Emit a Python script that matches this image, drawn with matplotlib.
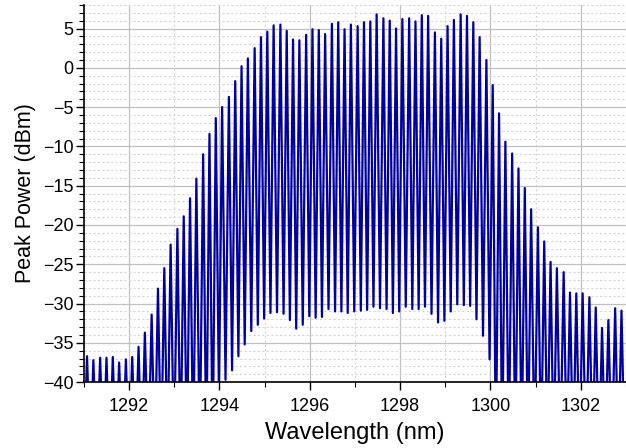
import matplotlib
matplotlib.use("Agg")
import matplotlib.pyplot as plt
from matplotlib.ticker import MultipleLocator
import numpy as np

plt.rcParams["font.family"] = ["Liberation Sans", "DejaVu Sans"]

# comb line centre wavelengths (nm)
peak_nm = [
    1291.07, 1291.21, 1291.36, 1291.50, 1291.64, 1291.78, 1291.93, 1292.07,
    1292.21, 1292.35, 1292.50, 1292.64, 1292.78, 1292.92, 1293.07, 1293.21,
    1293.35, 1293.49, 1293.64, 1293.78, 1293.92, 1294.06, 1294.21, 1294.35,
    1294.49, 1294.63, 1294.78, 1294.92, 1295.06, 1295.20, 1295.35, 1295.49,
    1295.63, 1295.77, 1295.92, 1296.06, 1296.20, 1296.34, 1296.49, 1296.63,
    1296.77, 1296.91, 1297.06, 1297.20, 1297.34, 1297.48, 1297.63, 1297.77,
    1297.91, 1298.05, 1298.20, 1298.34, 1298.48, 1298.62, 1298.77, 1298.91,
    1299.05, 1299.19, 1299.34, 1299.48, 1299.62, 1299.76, 1299.91, 1300.05,
    1300.19, 1300.33, 1300.48, 1300.62, 1300.76, 1300.90, 1301.05, 1301.19,
    1301.33, 1301.47, 1301.62, 1301.76, 1301.90, 1302.04, 1302.19, 1302.33,
    1302.47, 1302.61, 1302.76, 1302.90,
]

# peak power of each comb line (dBm)
peak_dbm = [
    -36.7, -37.2, -36.9, -36.9, -36.8, -37.5, -37.1, -36.8,
    -35.5, -33.7, -31.4, -28.1, -25.5, -22.5, -20.5, -18.9,
    -16.6, -14.1, -11.0, -8.4, -6.4, -5.0, -3.7, -1.7,
    0.2, 1.2, 2.5, 3.9, 4.6, 5.4, 5.5, 4.7,
    3.6, 3.5, 4.2, 4.9, 4.8, 4.3, 5.6, 5.8,
    4.9, 5.5, 5.3, 5.8, 5.9, 6.8, 6.3, 6.0,
    5.0, 6.2, 6.3, 5.9, 6.7, 6.6, 4.5, 3.7,
    5.3, 6.1, 6.8, 6.6, 5.8, 3.9, 1.0, -2.2,
    -5.8, -9.4, -10.9, -12.8, -15.3, -18.0, -20.3, -22.1,
    -24.7, -25.5, -26.0, -28.6, -28.7, -28.7, -29.2, -30.5,
    -33.1, -32.1, -30.6, -30.9,
]

# minimum between neighbouring lines (dBm); first one sits before line 1,
# last one after line 84; -50 means below the visible range
trough_dbm = [
    -50, -50, -50, -50, -50, -50, -50, -50, -50, -50, -50,
    -50, -50, -50, -50, -50, -50, -50, -50, -50, -50, -42,
    -39.7, -38.5, -36.7, -35.2, -33.5, -32.7, -31.9, -31.2,
    -31.1, -31.3, -32.1, -33.2, -32.7, -31.6, -31.8, -31.7,
    -30.7, -31.0, -31.0, -31.2, -31.0, -30.9, -30.8, -30.4,
    -30.6, -30.7, -31.2, -31.0, -30.4, -30.7, -30.7, -30.4,
    -31.3, -32.4, -32.2, -31.0, -30.1, -30.2, -30.3, -32.0,
    -34.1, -37.1, -50, -50, -50, -50, -50, -50, -50, -50,
    -50, -50, -50, -50, -50, -50, -50, -50, -50, -50, -50, -50, -50,
]

# trace: trough, peak, trough, peak ... troughs halfway between lines
peak_nm = np.array(peak_nm)
half = np.diff(peak_nm).mean() / 2
trough_nm = np.concatenate([[peak_nm[0] - half],
                            (peak_nm[:-1] + peak_nm[1:]) / 2,
                            [peak_nm[-1] + half]])
x = np.empty(len(peak_nm) + len(trough_nm))
y = np.empty_like(x)
x[0::2], x[1::2] = trough_nm, peak_nm
y[0::2], y[1::2] = trough_dbm, peak_dbm

fig = plt.figure(figsize=(6.26, 4.48), dpi=100)
ax = fig.add_axes([0.134, 0.147, 0.866, 0.842])

ax.plot(x, y, color="#0000a0", lw=1.6)

ax.set_xlim(1291, 1303)
ax.set_ylim(-40, 8)
ax.xaxis.set_major_locator(MultipleLocator(2))
ax.xaxis.set_minor_locator(MultipleLocator(1))
ax.yaxis.set_major_locator(MultipleLocator(5))
ax.yaxis.set_minor_locator(MultipleLocator(1))

ax.set_axisbelow(True)
ax.grid(which="major", color="#c0c0c0", lw=0.9, ls="-")
ax.grid(which="minor", color="#d6d6d6", lw=0.8, ls=(0, (2, 2)))

for side in ["top", "right"]:
    ax.spines[side].set_visible(False)
for side in ["left", "bottom"]:
    ax.spines[side].set_linewidth(1.2)

ax.tick_params(which="major", direction="out", length=6, width=1.0,
               labelsize=13)
ax.tick_params(which="minor", direction="out", length=3.5, width=0.8)
ax.tick_params(axis="x", which="major", pad=5.5)
ax.tick_params(axis="y", which="major", pad=1.5)

ax.set_xlabel("Wavelength (nm)", fontsize=17, labelpad=5)
ax.set_ylabel("Peak Power (dBm)", fontsize=15.5, labelpad=5)

fig.savefig("out.png", dpi=100)
